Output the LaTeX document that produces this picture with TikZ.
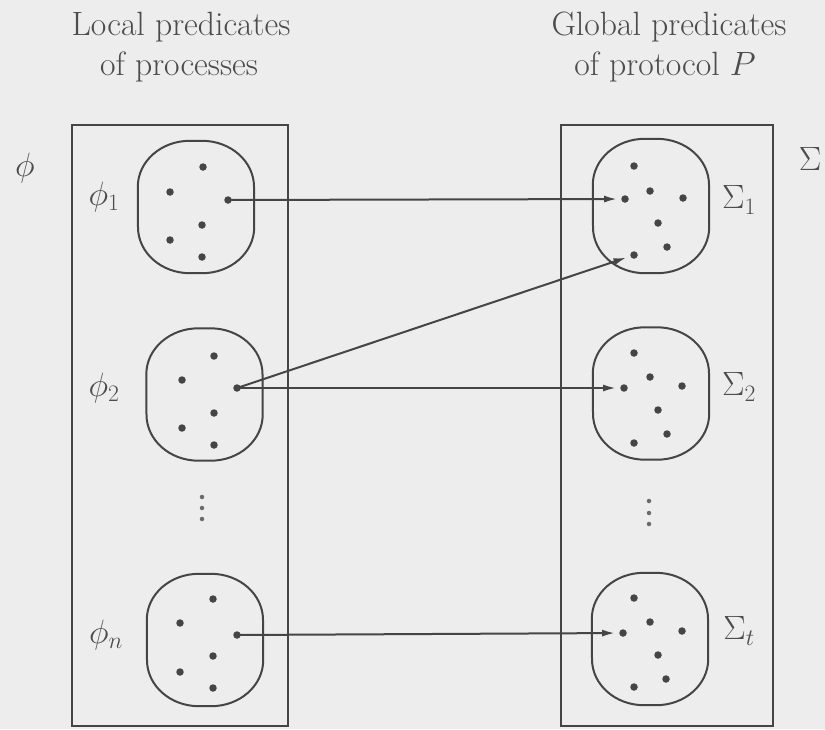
\RequirePackage{fix-cm}
\documentclass[tikz,border=0pt]{standalone}
\usetikzlibrary{arrows.meta}
\definecolor{bgc}{HTML}{EDEDED}
\definecolor{ink}{HTML}{454545}
\definecolor{txt}{HTML}{4C4C4C}
\tikzset{
  frame/.style={draw=ink,line width=2.2pt},
  blob/.style={rectangle,minimum width=116pt,minimum height=132pt,inner sep=0pt},
  blobline/.style={draw=ink,line width=2pt},
  dot/.style={circle,fill=ink,inner sep=0pt,minimum size=7.5pt},
  sdot/.style={circle,fill=ink!80,inner sep=0pt,minimum size=4.5pt},
  lbl/.style={text=txt,font=\fontsize{33.7}{40}\selectfont,inner sep=0pt},
  arr/.style={draw=ink,line width=2pt,-{Latex[length=13pt,width=7pt]},shorten >=4pt}
}
\begin{document}
\begin{tikzpicture}[x=1pt,y=-1pt]
\fill[bgc] (0,0) rectangle (825,729);
\useasboundingbox (0,0) rectangle (825,729);
% titles
\node[lbl,anchor=base] (t1) at (181,35) {Local predicates};
\node[lbl,anchor=base] (t2) at (179,75) {of processes};
\node[lbl,anchor=base] (t3) at (669,35) {Global predicates};
\node[lbl,anchor=base] (t4) at (665,75) {of protocol $P$};
% frames
\draw[frame] (72,125) rectangle (288,726);
\draw[frame] (561,125) rectangle (773,726);
% blobs
\node[blob] (B1) at (196,207) {};
\node[blob] (B2) at (204.5,394.5) {};
\node[blob] (Bn) at (205,640) {};
\node[blob,minimum height=134pt] (S1) at (651,206) {};
\node[blob] (S2) at (651,393.5) {};
\node[blob] (St) at (650,639) {};
\foreach \b in {B1,B2,Bn,S1,S2,St}
  \draw[blobline] ([xshift=-6pt]\b.north) -- ([xshift=6pt]\b.north)
    arc[start angle=90,end angle=0,x radius=52pt,y radius=46pt]
    -- ([yshift=46pt]\b.south east)
    arc[start angle=0,end angle=-90,x radius=52pt,y radius=46pt]
    -- ([xshift=-6pt]\b.south)
    arc[start angle=270,end angle=180,x radius=52pt,y radius=46pt]
    -- ([yshift=-46pt]\b.north west)
    arc[start angle=180,end angle=90,x radius=52pt,y radius=46pt]
    -- cycle;
% dots left
\foreach \x/\y/\n in {203/167/a1,170/192/a2,228/200/p1,202/225/a4,170/240/a5,202/257/a6,
  214/356/b1,182/380/b2,237/388/p2,214/413/b4,182/428/b5,214/445/b6,
  213/599/c1,180/623/c2,237/635/pn,213/656/c4,180/672/c5,213/688/c6}
  \node[dot] (\n) at (\x,\y) {};
% dots right
\foreach \x/\y/\n in {634/166/d1,650/191/d2,625/199/s1,683/198/d4,658/223/d5,667/247/d6,634/255/s1b,
  634/353/e1,650/377/e2,624/388/s2,682/386/e4,658/410/e5,667/434/e6,634/443/e7,
  634/598/f1,650/622/f2,623/633/st,682/631/f4,658/655/f5,666/679/f6,634/687/f7}
  \node[dot] (\n) at (\x,\y) {};
% vertical ellipses
\foreach \y/\n in {497/v1,508/v2,519/v3} \node[sdot] (\n) at (202,\y) {};
\foreach \y/\n in {501/w1,513/w2,524/w3} \node[sdot] (\n) at (649,\y) {};
% labels
\node[lbl] (Phi) at (25,168) {$\phi$};
\node[lbl] (L1) at (104,197) {$\phi_1$};
\node[lbl] (L2) at (104,388) {$\phi_2$};
\node[lbl] (Ln) at (106,635) {$\phi_n$};
\node[lbl] (R1) at (739,200) {$\Sigma_1$};
\node[lbl] (R2) at (739,387) {$\Sigma_2$};
\node[lbl] (Rt) at (739,631) {$\Sigma_t$};
\node[lbl] (Sig) at (810,159) {$\Sigma$};
% arrows
\draw[arr] (p1.center) -- (s1);
\draw[arr] (p2.center) -- (s1b);
\draw[arr] (p2.center) -- (s2);
\draw[arr] (pn.center) -- (st);
\end{tikzpicture}
\end{document}
